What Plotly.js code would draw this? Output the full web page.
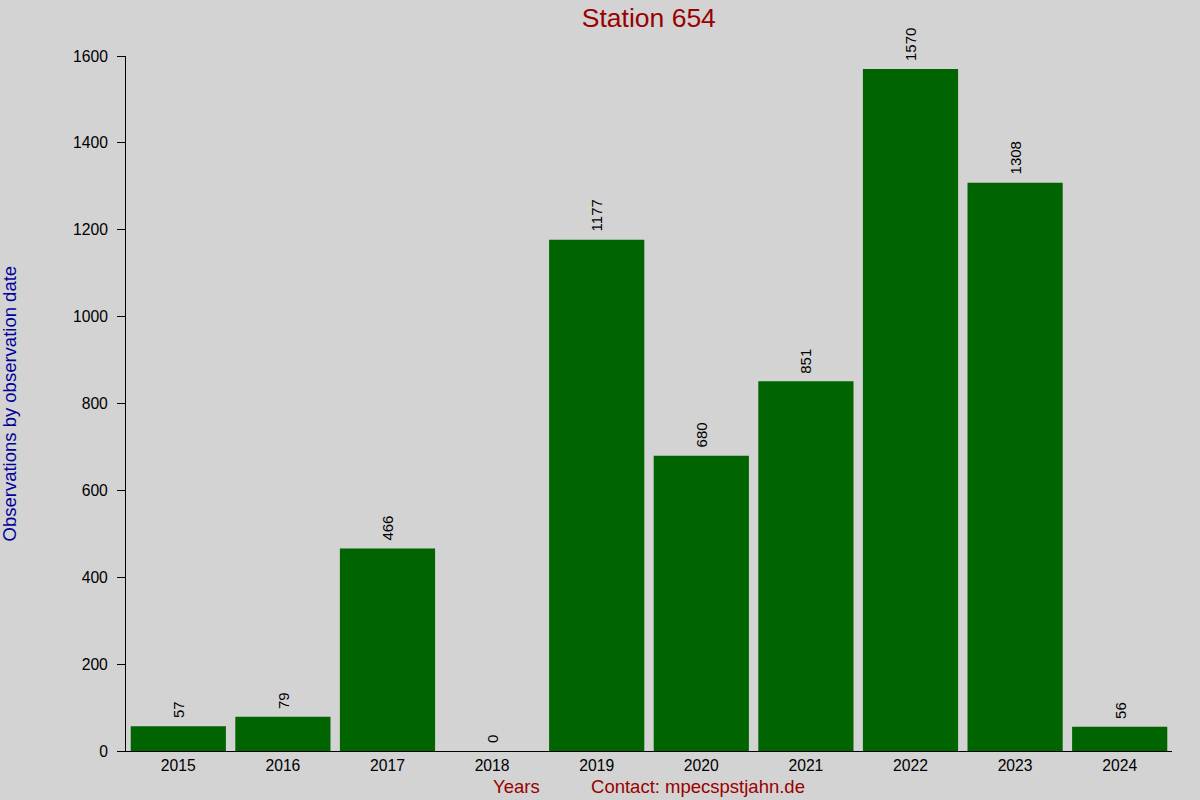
<!DOCTYPE html>
<html>
<head>
<meta charset="utf-8">
<script src="https://cdn.plot.ly/plotly-3.0.1.min.js"></script>
<style>
  body { margin: 0; background: #d3d3d3; }
  #chart { width: 1200px; height: 800px; }
</style>
</head>
<body>
<div id="chart"></div>
<script>
var years = ['2015', '2016', '2017', '2018', '2019', '2020', '2021', '2022', '2023', '2024'];
var observations = [57, 79, 466, 0, 1177, 680, 851, 1570, 1308, 56];
var yTicks = [0, 200, 400, 600, 800, 1000, 1200, 1400, 1600];

var bars = {
  x: years,
  y: observations,
  type: 'bar',
  width: 0.91,
  marker: { color: '#006400' },
  hoverinfo: 'x+y'
};

// value labels above the bars, rotated; category axis wants the serial index
var valueLabels = years.map(function (yr, i) {
  return {
    x: i,
    y: observations[i],
    xref: 'x', yref: 'y',
    text: String(observations[i]),
    textangle: -90,
    xanchor: 'center', yanchor: 'bottom',
    yshift: 6,
    showarrow: false,
    font: { size: 15, color: '#000' }
  };
});

var layout = {
  width: 1200,
  height: 800,
  margin: { l: 126, r: 28, t: 56, b: 49 },
  paper_bgcolor: '#d3d3d3',
  plot_bgcolor: '#d3d3d3',
  font: { family: 'Liberation Sans, Arial, sans-serif', size: 15, color: '#000' },
  showlegend: false,
  title: {
    text: 'Station 654',
    font: { size: 26.5, color: '#990000' },
    x: 0.5407, xanchor: 'center',
    yref: 'container', y: 0.9775, yanchor: 'middle'
  },
  xaxis: {
    type: 'category',
    range: [-0.5, 9.5],
    showgrid: false,
    zeroline: false,
    showline: true,
    linecolor: '#000',
    linewidth: 1,
    ticks: '',
    tickfont: { size: 15.7 }
  },
  xaxis2: {
    overlaying: 'x',
    side: 'top',
    range: [-0.5, 9.5],
    tickvals: [0, 1, 2, 3, 4, 5, 6, 7, 8, 9],
    ticks: 'inside',
    ticklen: 1,
    tickwidth: 1,
    tickcolor: '#000',
    showticklabels: false,
    showgrid: false,
    zeroline: false,
    showline: false
  },
  yaxis: {
    range: [0, 1600],
    tickvals: yTicks,
    showgrid: false,
    zeroline: false,
    showline: true,
    linecolor: '#000',
    linewidth: 1,
    ticks: 'outside',
    ticklen: 8,
    tickcolor: '#000',
    ticklabelstandoff: 6,
    tickfont: { size: 15.7 }
  },
  annotations: valueLabels.concat([
    {
      text: 'Observations by observation date',
      xref: 'paper', yref: 'paper',
      x: -0.1109, y: 0.5,
      xanchor: 'center', yanchor: 'middle',
      textangle: -90,
      showarrow: false,
      font: { size: 18.5, color: '#000099' }
    },
    {
      text: 'Years\u00a0\u00a0\u00a0\u00a0\u00a0\u00a0\u00a0\u00a0\u00a0\u00a0Contact: mpecspstjahn.de',
      xref: 'paper', yref: 'paper',
      x: 0.5, y: -0.0504,
      xanchor: 'center', yanchor: 'middle',
      showarrow: false,
      font: { size: 18.5, color: '#990000' }
    }
  ])
};

var config = { displayModeBar: false, staticPlot: true };

Plotly.newPlot('chart', [bars], layout, config);
</script>
</body>
</html>
